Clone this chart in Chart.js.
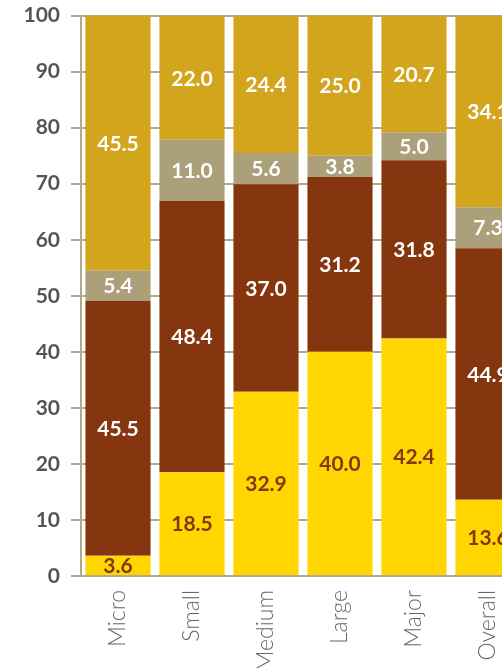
<!DOCTYPE html>
<html>
<head>
<meta charset="utf-8">
<script src="https://cdn.jsdelivr.net/npm/chart.js@4.4.1/dist/chart.umd.min.js"></script>
<style>
  html, body { margin: 0; padding: 0; background: #fff; overflow: hidden; }
  #wrap { position: absolute; left: -3px; top: -8px; }
</style>
</head>
<body>
<div id="wrap"><canvas id="myChart" width="528" height="676"></canvas></div>
<script>
// Data
const categories = ["Micro", "Small", "Medium", "Large", "Major", "Overall"];
const yellowValues = [3.6, 18.5, 32.9, 40.0, 42.4, 13.6];
const brownValues = [45.5, 48.4, 37.0, 31.2, 31.8, 44.9];
const greyValues = [5.4, 11.0, 5.6, 3.8, 5.0, 7.3];
const goldValues = [45.5, 22.0, 24.4, 25.0, 20.7, 34.1];
const yTicks = [0, 10, 20, 30, 40, 50, 60, 70, 80, 90, 100];

const tan = "#b3a888";

// Writes each segment's value in the middle of its bar piece
const segmentLabels = {
  id: "segmentLabels",
  afterDatasetsDraw(chart) {
    const ctx = chart.ctx;
    ctx.save();
    ctx.font = "bold 21px Lato, 'Open Sans', sans-serif";
    ctx.textAlign = "center";
    ctx.textBaseline = "middle";
    chart.data.datasets.forEach((ds, i) => {
      const meta = chart.getDatasetMeta(i);
      meta.data.forEach((bar, j) => {
        const p = bar.getProps(["x", "y", "base"], true);
        ctx.fillStyle = ds.labelColor;
        ctx.fillText(ds.data[j].toFixed(1), p.x, (p.y + p.base) / 2 + 1);
      });
    });
    ctx.restore();
  }
};

const barData = {
  labels: categories,
  datasets: [
    { data: yellowValues, backgroundColor: "#ffd600", labelColor: "#86360e" },
    { data: brownValues, backgroundColor: "#86360e", labelColor: "#ffffff" },
    { data: greyValues, backgroundColor: "#aca07a", labelColor: "#ffffff" },
    { data: goldValues, backgroundColor: "#d3a51d", labelColor: "#ffffff" }
  ]
};

const barConfig = {
  type: "bar",
  data: barData,
  options: {
    responsive: false,
    animation: false,
    devicePixelRatio: 1,
    barPercentage: 0.88,
    categoryPercentage: 1,
    layout: { padding: { top: 2, right: 0, left: 0, bottom: 0 } },
    plugins: {
      legend: { display: false },
      tooltip: { enabled: false }
    },
    scales: {
      x: {
        stacked: true,
        afterFit(axis) { axis.height = 92; },
        grid: { display: false },
        border: { display: true, color: tan, width: 2 },
        ticks: {
          minRotation: 90,
          maxRotation: 90,
          color: "#666666",
          padding: 6,
          font: { family: "Lato, 'Open Sans', sans-serif", size: 23, weight: "300" }
        }
      },
      y: {
        stacked: true,
        min: 0,
        max: 100,
        afterFit(axis) { axis.width = 84; },
        afterBuildTicks(axis) {
          axis.ticks = yTicks.map(v => ({ value: v }));
        },
        grid: { color: tan, lineWidth: 2, tickLength: 10 },
        border: { display: true, color: tan, width: 2 },
        ticks: {
          color: "#555555",
          padding: 11,
          font: { family: "Lato, 'Open Sans', sans-serif", size: 21, weight: "bold" }
        }
      }
    }
  },
  plugins: [segmentLabels]
};

const ctx = document.getElementById("myChart").getContext("2d");
const myChart = new Chart(ctx, barConfig);
</script>
</body>
</html>
